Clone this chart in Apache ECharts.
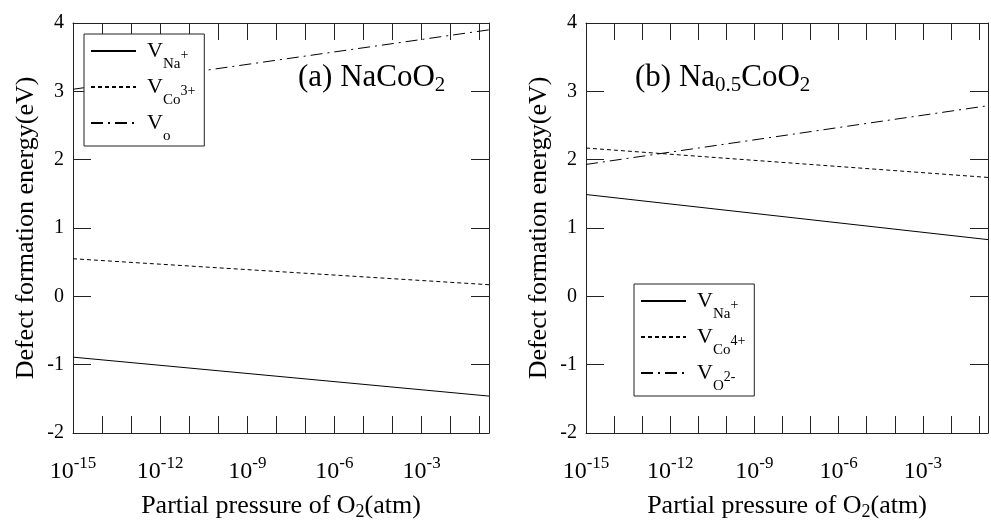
<!DOCTYPE html>
<html>
<head>
<meta charset="UTF-8">
<script src="https://cdn.jsdelivr.net/npm/echarts@6/dist/echarts.min.js"></script>
<style>
	html,body{margin:0;padding:0;background:#fff}
	#pic{width:991px;height:526px}
</style>
</head>
<body>
<div id="pic"></div>
<script>
	"use strict";

	// x values are log10 of the O2 partial pressure (atm), 10^-15 .. 0.21 atm
	const logP=[-15,-0.68];

	// (a) NaCoO2
	const naA=[-0.89,-1.46];
	const coA=[0.55,0.17];
	const oA=[3.03,3.90];

	// (b) Na0.5CoO2
	const naB=[1.49,0.83];
	const coB=[2.17,1.74];
	const oB=[1.93,2.79];

	const yTicks=[-2,4,1];
	const fam="'Liberation Serif','Times New Roman',serif";
	const ink="#222";

	const legendText={
		"Na+":"{v|V}{sub|Na}{sup|+}",
		"Co3+":"{v|V}{sub|Co}{sup|3+}",
		"O":"{v|V}{sub|o}",
		"Co4+ ":"{v|V}{sub|Co}{sup|4+}",
		"O2-":"{v|V}{sub|O}{sup|2-}"
	};

	function pts(arr)
	{return logP.map((x,i)=>[x,arr[i]]);}

	function line(name,arr,type,k)
	{
		return {
			name:name,type:"line",xAxisIndex:k*2,yAxisIndex:k*2,
			data:pts(arr),symbol:"none",silent:true,
			lineStyle:{color:"#000",width:1,type:type},
			itemStyle:{color:"rgba(0,0,0,0)"}
		};
	}

	function T(size,extra)
	{return Object.assign({fontSize:size,fontFamily:fam,fontWeight:"normal",color:"#000"},extra||{});}

	function xAx(k,top)
	{
		return {
			type:"value",gridIndex:k,position:top?"top":"bottom",
			min:-15,max:-0.68,interval:1,
			axisLine:{show:true,onZero:false,lineStyle:{color:ink,width:1}},
			axisTick:{show:true,inside:true,length:17,lineStyle:{color:ink}},
			splitLine:{show:false},
			axisLabel:{
				show:!top,margin:22,color:"#000",fontFamily:fam,fontSize:24,
				formatter:function(v){return v%3===0?"{b|10}{p|"+v+"}":"";},
				rich:{
					b:T(24,{lineHeight:34}),
					p:T(17,{lineHeight:14,verticalAlign:"top"})
				}
			},
			name:top?"":"{n|Partial pressure of O}{s|2}{n|(atm)}",
			nameLocation:"middle",nameGap:58,
			nameTextStyle:{
				fontSize:26,fontFamily:fam,
				rich:{
					n:T(26,{lineHeight:30}),
					s:T(18,{lineHeight:6,verticalAlign:"bottom"})
				}
			}
		};
	}

	function yAx(k,right)
	{
		return {
			type:"value",gridIndex:k,position:right?"right":"left",
			min:yTicks[0],max:yTicks[1],interval:yTicks[2],
			axisLine:{show:true,onZero:false,lineStyle:{color:ink,width:1}},
			axisTick:{show:true,inside:true,length:18,lineStyle:{color:ink}},
			splitLine:{show:false},
			axisLabel:{show:!right,margin:9,fontSize:20,color:"#000",fontFamily:fam},
			name:right?"":"Defect formation energy(eV)",
			nameLocation:"middle",nameGap:34,
			nameTextStyle:T(26)
		};
	}

	function leg(k,names,left,top)
	{
		return {
			orient:"vertical",left:left,top:top,
			data:names,
			padding:[6,9,2,6],
			itemWidth:45,itemHeight:14,itemGap:4,
			borderColor:ink,borderWidth:1,backgroundColor:"#fff",
			selectedMode:false,
			itemStyle:{color:"rgba(0,0,0,0)",borderColor:"rgba(0,0,0,0)",borderWidth:0},
			formatter:function(n){return legendText[n];},
			textStyle:{
				fontFamily:fam,color:"#000",fontSize:22,
				rich:{
					v:T(22,{lineHeight:22,verticalAlign:"top",padding:[0,0,0,6]}),
					sub:T(15,{lineHeight:15,verticalAlign:"top",padding:[17,0,0,0]}),
					sup:T(14,{lineHeight:14,verticalAlign:"top",padding:[8,0,0,0]})
				}
			}
		};
	}

	function ttl(text,left)
	{
		return {
			text:text,left:left,top:60,padding:0,
			textStyle:{
				fontWeight:"normal",fontFamily:fam,fontSize:31,
				rich:{
					m:T(31,{lineHeight:36}),
					s:T(21,{lineHeight:20,verticalAlign:"bottom"})
				}
			}
		};
	}

	let pic=echarts.init(document.getElementById("pic"));
	let option={
		animation:false,
		backgroundColor:"#fff",
		title:[
			ttl("{m|(a) NaCoO}{s|2}",298),
			ttl("{m|(b) Na}{s|0.5}{m|CoO}{s|2}",635)
		],
		grid:[
			{left:73,top:23,width:416,height:411},
			{left:586,top:23,width:416,height:411}
		],
		xAxis:[xAx(0,false),xAx(0,true),xAx(1,false),xAx(1,true)],
		yAxis:[yAx(0,false),yAx(0,true),yAx(1,false),yAx(1,true)],
		legend:[
			leg(0,["Na+","Co3+","O"],84,34),
			leg(1,["Na+","Co4+ ","O2-"],634,284)
		],
		series:[
			line("Na+",naA,"solid",0),
			line("Co3+",coA,[4,3],0),
			line("O",oA,[12,5,2,5],0),
			line("Na+",naB,"solid",1),
			line("Co4+ ",coB,[4,3],1),
			line("O2-",oB,[12,5,2,5],1)
		]
	};
	pic.setOption(option);
</script>
</body>
</html>
